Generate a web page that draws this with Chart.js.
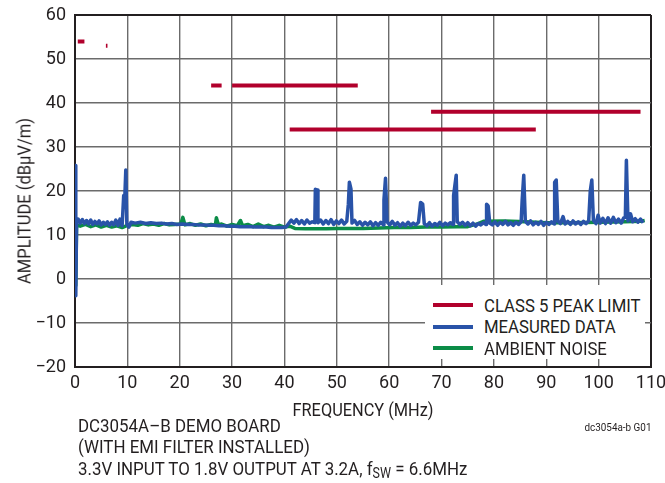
<!DOCTYPE html>
<html>
<head>
<meta charset="utf-8">
<script src="https://cdn.jsdelivr.net/npm/chart.js@4.4.1/dist/chart.umd.min.js"></script>
<style>
  body { margin: 0; background: #fff; }
  #wrap { position: relative; width: 665px; height: 483px; overflow: hidden;
          font-family: 'Liberation Sans Narrow', 'Arial Narrow', 'Roboto', sans-serif; color: #231f20; }
  #chart { position: absolute; left: 0; top: 0; }
  .ytitle { position: absolute; left: 24px; top: 201px; transform: translate(-50%, -50%) rotate(-90deg) scaleX(0.87);
            white-space: nowrap; font-size: 19px; line-height: 21px; }
  .xtitle { position: absolute; left: 363px; top: 399px; transform: translateX(-50%) scaleX(0.86);
            white-space: nowrap; font-size: 19px; line-height: 21px; }
  #legend { position: absolute; left: 425px; top: 285px; width: 220px; height: 74px; background: #fff; }
  #legend .swatch { position: absolute; left: 8px; width: 40px; height: 4px; }
  #legend .label { position: absolute; left: 59px; font-size: 19px; line-height: 21px; white-space: nowrap;
                   transform: scaleX(0.88); transform-origin: 0 50%; }
  .note { position: absolute; left: 78px; top: 415px; font-size: 19px; line-height: 21.3px; white-space: nowrap;
          transform: scaleX(0.89); transform-origin: 0 0; }
  .note sub { font-size: 14px; vertical-align: -3px; line-height: 0; }
  .code { position: absolute; right: 14px; top: 422px; font-size: 11px; line-height: 12px;
          transform: scaleX(0.9); transform-origin: 100% 0; }
</style>
</head>
<body>
<div id="wrap">
  <canvas id="chart" width="665" height="483"></canvas>
  <div class="ytitle">AMPLITUDE (dBµV/m)</div>
  <div class="xtitle">FREQUENCY (MHz)</div>
  <div id="legend"></div>
  <div class="note">DC3054A–B DEMO BOARD<br>(WITH EMI FILTER INSTALLED)<br>3.3V INPUT TO 1.8V OUTPUT AT 3.2A, f<sub>SW</sub> = 6.6MHz</div>
  <div class="code">dc3054a-b G01</div>
</div>
<script>
// CISPR 25 class 5 peak limit bands (MHz, dBµV/m)
const limitStart = [0.53, 5.9, 26, 30, 41, 68, 76];
const limitStop  = [1.8, 6.2, 28, 54, 88, 87, 108];
const limitLevel = [54, 53, 44, 44, 34, 38, 38];

// measured emissions
const measFreq = [0.1, 0.15, 0.3, 0.6, 1.0, 1.4, 1.8, 2.2, 2.6, 3.0, 3.4, 3.8, 4.2, 4.6, 5.0, 5.4, 5.8, 6.2, 6.6, 7.0,
  7.4, 7.8, 8.2, 8.6, 9.0, 9.3, 9.5, 9.7, 9.9, 10.3, 10.7, 11.5, 12.5, 13.5, 14.5, 15.5, 16.5, 17.5, 18.5, 19.5,
  20.5, 21.5, 22.5, 23.5, 24.5, 25.5, 26.5, 27.5, 28.5, 29.5, 30.5, 31.5, 32.5, 33.5, 34.5, 35.5, 36.5, 37.5, 38.5, 39.5,
  40.3, 40.8, 41.3, 41.8, 42.3, 42.8, 43.3, 43.8, 44.3, 44.8, 45.3, 45.8, 45.9, 46.3, 46.4, 46.9, 47.4, 47.9, 48.4, 48.9,
  49.4, 49.9, 50.4, 50.9, 51.4, 51.9, 52.2, 52.4, 52.7, 52.9, 53.4, 53.9, 54.4, 54.9, 55.4, 55.9, 56.4, 56.9, 57.4, 57.9,
  58.4, 58.9, 59.0, 59.3, 59.6, 60.1, 60.6, 61.1, 61.6, 62.1, 62.6, 63.1, 63.6, 64.1, 64.6, 65.1, 65.6, 66.0, 66.4, 66.7,
  67.2, 67.7, 68.2, 68.7, 69.2, 69.7, 70.2, 70.7, 71.2, 71.7, 72.2, 72.3, 72.8, 73.0, 73.5, 74.0, 74.5, 75.0, 75.5, 76.0,
  76.5, 77.0, 77.5, 78.0, 78.5, 78.6, 78.9, 79.2, 79.7, 80.2, 80.7, 81.2, 81.7, 82.2, 82.7, 83.2, 83.7, 84.2, 84.7, 85.2,
  85.4, 85.7, 86.0, 86.5, 87.0, 87.5, 88.0, 88.5, 89.0, 89.5, 90.0, 90.5, 91.0, 91.5, 91.6, 91.9, 92.2, 92.7, 93.2, 93.6,
  94.1, 94.6, 95.1, 95.6, 96.1, 96.6, 97.1, 97.6, 98.1, 98.4, 98.7, 99.0, 99.5, 99.9, 100.3, 100.8, 101.3, 101.8, 102.3, 102.8,
  103.3, 103.8, 104.3, 104.8, 105.1, 105.3, 105.6, 106.1, 106.5, 107.0, 107.5, 108.0, 108.5];
const measAmp = [25.8, -3.8, 12.8, 13.6, 12.7, 13.5, 12.6, 13.3, 12.5, 13.4, 12.4, 13.1, 12.5, 13.2, 12.3, 12.9, 12.4, 13.0, 12.2, 12.9,
  12.3, 13.4, 12.2, 13.6, 12.1, 19.0, 18.2, 24.8, 12.4, 11.8, 12.9, 12.7, 12.9, 12.6, 12.8, 12.6, 12.7, 12.5, 12.6, 12.4,
  12.5, 12.4, 12.4, 12.3, 12.3, 12.2, 12.2, 12.1, 12.1, 12.0, 12.0, 11.9, 11.9, 11.9, 11.8, 11.8, 11.8, 11.7, 11.7, 11.7,
  11.8, 12.6, 13.4, 12.7, 13.5, 12.6, 13.3, 12.5, 13.4, 12.7, 13.0, 12.8, 20.4, 20.2, 12.8, 13.4, 12.5, 13.3, 12.6, 13.5,
  12.4, 13.2, 12.6, 13.4, 12.5, 13.1, 17.0, 22.0, 20.5, 12.7, 13.3, 12.4, 13.0, 12.2, 12.9, 12.3, 13.0, 12.1, 12.8, 12.2,
  12.9, 12.3, 18.0, 22.9, 13.0, 12.3, 13.1, 12.2, 12.8, 12.0, 12.7, 12.1, 12.9, 12.2, 12.7, 12.3, 12.9, 17.4, 17.0, 12.6,
  12.1, 12.8, 12.0, 12.6, 12.2, 12.9, 12.1, 12.7, 12.3, 12.8, 12.4, 19.0, 23.6, 13.0, 12.4, 12.9, 12.2, 12.8, 12.1, 12.7,
  12.0, 12.6, 12.3, 12.8, 12.4, 17.0, 16.6, 12.7, 12.3, 13.0, 12.2, 12.9, 12.4, 13.1, 12.3, 12.8, 12.2, 12.9, 12.4, 13.0,
  18.0, 23.6, 13.1, 12.5, 13.2, 12.3, 12.9, 12.4, 13.1, 12.2, 12.9, 12.4, 13.0, 12.5, 22.0, 22.5, 13.2, 12.6, 14.2, 12.5,
  13.1, 12.4, 13.2, 12.5, 13.0, 12.4, 13.1, 12.6, 13.2, 20.0, 22.5, 13.3, 12.6, 14.5, 12.7, 13.8, 12.6, 13.9, 12.7, 14.0,
  12.8, 13.6, 12.7, 13.9, 14.0, 27.0, 13.2, 14.8, 13.0, 13.7, 12.9, 13.6, 12.8];

// ambient noise floor
const ambFreq = [0.1, 0.15, 0.3, 1.0, 2.0, 3.0, 4.0, 5.0, 6.0, 7.0, 8.0, 9.0, 10.0, 11.0, 12.0, 13.0, 14.0, 15.0, 16.0, 17.0,
  18.0, 19.0, 20.2, 20.6, 21.0, 22.0, 23.0, 24.0, 25.0, 26.0, 26.8, 27.0, 27.4, 28.0, 29.0, 30.0, 31.0, 31.6, 32.0, 33.0,
  34.0, 35.0, 36.0, 37.0, 38.0, 39.0, 40.0, 41.0, 42.0, 44.0, 46.0, 48.0, 50.0, 52.0, 55.0, 58.0, 61.0, 64.0, 67.0, 70.0,
  73.0, 75.0, 77.0, 78.0, 82.0, 86.0, 90.0, 95.0, 100.0, 105.0, 108.0, 108.8];
const ambAmp = [12.0, -1.5, 12.3, 12.0, 12.4, 11.9, 12.3, 11.8, 12.2, 11.8, 12.1, 11.7, 12.2, 12.4, 12.2, 12.6, 12.3, 12.5, 12.2, 12.6,
  12.3, 12.4, 12.5, 14.0, 12.3, 12.6, 12.2, 12.5, 12.1, 12.4, 12.2, 13.9, 12.3, 12.5, 12.0, 12.4, 12.1, 13.3, 12.1, 12.4,
  11.9, 12.5, 11.9, 12.2, 11.8, 12.2, 11.8, 12.0, 11.5, 11.4, 11.4, 11.4, 11.5, 11.5, 11.5, 11.6, 11.7, 11.7, 11.8, 11.8,
  11.9, 11.9, 12.6, 13.1, 13.2, 13.0, 12.8, 12.8, 12.9, 13.0, 13.1, 13.3];

const xTicks = [0, 10, 20, 30, 40, 50, 60, 70, 80, 90, 100, 110];
const yTicks = [-20, -10, 0, 10, 20, 30, 40, 50, 60];

const ink = '#231f20';
const font = "'Liberation Sans Narrow', 'Arial Narrow', 'Roboto', sans-serif";

const limitPts = [];
limitStart.forEach((s, i) => {
  limitPts.push({x: s, y: limitLevel[i]}, {x: limitStop[i], y: limitLevel[i]}, {x: limitStop[i], y: null});
});
const measPts = measFreq.map((f, i) => ({x: f, y: measAmp[i]}));
const ambPts = ambFreq.map((f, i) => ({x: f, y: ambAmp[i]}));

const edge = (v, lo, hi) => v === lo || v === hi;
const noPad = s => { s.paddingTop = 0; s.paddingBottom = 0; s.paddingLeft = 0; s.paddingRight = 0; };

const chart = new Chart(document.getElementById('chart'), {
  type: 'line',
  data: {
    datasets: [
      { label: 'CLASS 5 PEAK LIMIT', data: limitPts, borderColor: '#b1002c', borderWidth: 4, spanGaps: false,
        borderCapStyle: 'butt', borderJoinStyle: 'miter' },
      { label: 'MEASURED DATA', data: measPts, borderColor: '#2953a8', borderWidth: 3.5 },
      { label: 'AMBIENT NOISE', data: ambPts, borderColor: '#0b8c47', borderWidth: 3.5 }
    ]
  },
  options: {
    responsive: false,
    devicePixelRatio: 1,
    animation: false,
    parsing: false,
    normalized: false,
    elements: { point: { radius: 0 }, line: { tension: 0, borderCapStyle: 'butt', borderJoinStyle: 'round' } },
    layout: { padding: { left: 0, right: 14, top: 15, bottom: 86 } },
    plugins: { legend: { display: false }, tooltip: { enabled: false } },
    scales: {
      x: {
        type: 'linear', min: xTicks[0], max: xTicks[xTicks.length - 1],
        afterBuildTicks: s => { s.ticks = xTicks.map(v => ({value: v})); },
        afterFit: s => { s.height = 30; noPad(s); },
        ticks: { padding: 6, color: ink, font: { family: font, size: 18 }, maxRotation: 0, autoSkip: false },
        grid: {
          drawTicks: false,
          color: c => edge(c.tick && c.tick.value, 0, 110) ? '#231f20' : '#6b6b6b',
          lineWidth: c => edge(c.tick && c.tick.value, 0, 110) ? 2 : 1.4
        },
        border: { display: true, color: '#231f20', width: 2 }
      },
      y: {
        type: 'linear', min: yTicks[0], max: yTicks[yTicks.length - 1],
        afterBuildTicks: s => { s.ticks = yTicks.map(v => ({value: v})); },
        afterFit: s => { s.width = 75; noPad(s); },
        ticks: {
          padding: 9, color: ink, font: { family: font, size: 18 },
          callback: v => String(v).replace('-', '\u2212')
        },
        grid: {
          drawTicks: false,
          color: c => edge(c.tick && c.tick.value, -20, 60) ? '#231f20' : '#6b6b6b',
          lineWidth: c => edge(c.tick && c.tick.value, -20, 60) ? 2 : 1.4
        },
        border: { display: true, color: '#231f20', width: 2 }
      }
    }
  }
});

// legend box drawn over the grid, lower right
const legend = document.getElementById('legend');
chart.data.datasets.forEach((ds, i) => {
  const cy = 20 + i * 21.5;
  const sw = document.createElement('div');
  sw.className = 'swatch';
  sw.style.top = (cy - 2) + 'px';
  sw.style.background = ds.borderColor;
  const lb = document.createElement('div');
  lb.className = 'label';
  lb.style.top = (cy - 10.5) + 'px';
  lb.textContent = ds.label;
  legend.appendChild(sw);
  legend.appendChild(lb);
});
</script>
</body>
</html>
